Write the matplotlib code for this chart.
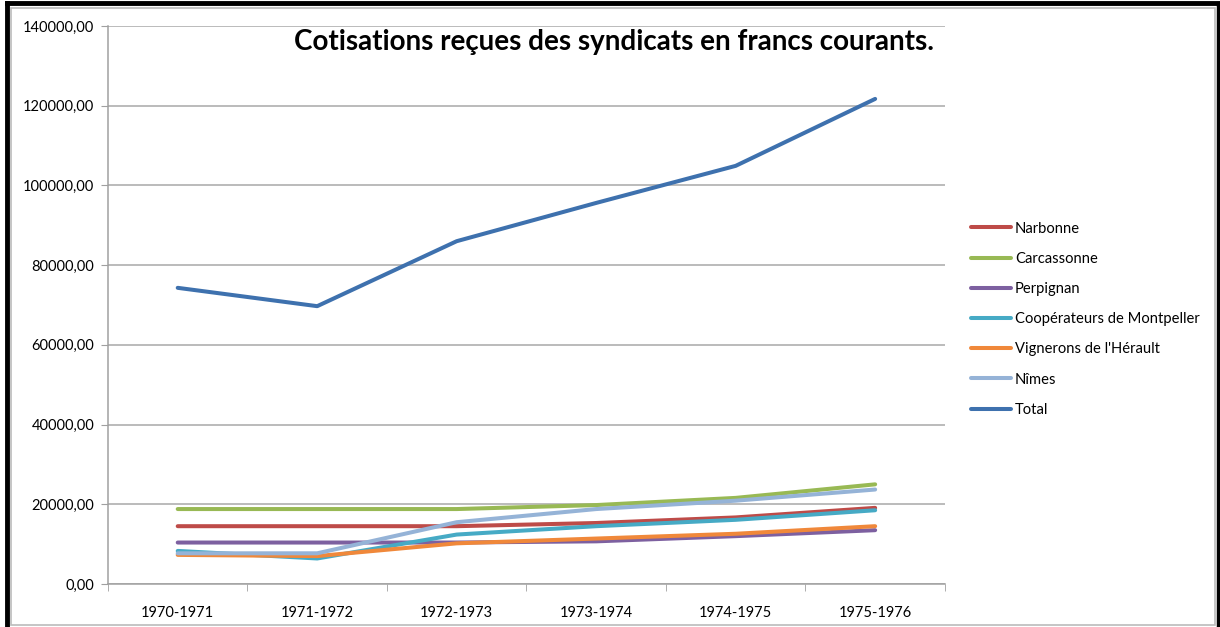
"""Cotisations des syndicats, 1970-1976"""

import matplotlib.pyplot as plt
from matplotlib.patches import Rectangle
from matplotlib.ticker import FuncFormatter

plt.rcParams['font.family'] = ['Lato', 'DejaVu Sans']

# campaigns and contributions (francs courants)
years = ['1970-1971', '1971-1972', '1972-1973', '1973-1974', '1974-1975', '1975-1976']
narbonne = [14500, 14500, 14500, 15300, 16700, 19100]
carcassonne = [18800, 18800, 18800, 19800, 21600, 25000]
perpignan = [10400, 10400, 10400, 10700, 12000, 13500]
cooperateurs = [8300, 6400, 12400, 14500, 16100, 18500]
vignerons = [7300, 7000, 10200, 11400, 12600, 14500]
nimes = [7700, 7700, 15500, 18800, 20900, 23700]
total = [74300, 69700, 86000, 95600, 104900, 121700]

series = [
    ('Narbonne', narbonne, '#BE4B48'),
    ('Carcassonne', carcassonne, '#98B954'),
    ('Perpignan', perpignan, '#7D60A0'),
    ('Coopérateurs de Montpeller', cooperateurs, '#46AAC5'),
    ("Vignerons de l'Hérault", vignerons, '#F0883A'),
    ('Nîmes', nimes, '#95B3D7'),
    ('Total', total, '#3E71AE'),
]

fig = plt.figure(figsize=(12.2, 6.27), dpi=100)
ax = fig.add_axes([0.0885, 0.0686, 0.686, 0.890])

x = list(range(len(years)))
for name, vals, col in series:
    ax.plot(x, vals, color=col, lw=2.9, label=name, solid_capstyle='round')

ax.set_xlim(-0.5, len(years) - 0.5)
ax.set_ylim(0, 140000)
ax.set_yticks(range(0, 140001, 20000))
ax.yaxis.set_major_formatter(FuncFormatter(lambda v, p: f'{v:.2f}'.replace('.', ',')))
ax.set_xticks(x)
ax.set_xticklabels(years)
ax.set_xticks([i - 0.5 for i in range(len(years) + 1)], minor=True)
ax.tick_params(axis='x', which='major', length=0, pad=16, labelsize=10.5)
ax.tick_params(axis='x', which='minor', length=5, color='#A0A0A0', direction='out')
ax.tick_params(axis='y', length=5, color='#A0A0A0', labelsize=10.5, pad=5)
ax.grid(axis='y', color='#A8A8A8', lw=1.1)
ax.set_axisbelow(True)
for s in ['top', 'right']:
    ax.spines[s].set_visible(False)
for s in ['left', 'bottom']:
    ax.spines[s].set_color('#A0A0A0')
    ax.spines[s].set_linewidth(1.1)

fig.text(0.503, 0.933, 'Cotisations reçues des syndicats en francs courants.',
         ha='center', va='center', fontsize=20, fontweight='bold')

ax.legend(loc='upper left', bbox_to_anchor=(0.791, 0.656), bbox_transform=fig.transFigure,
          frameon=False, fontsize=10.6, handlelength=2.7, handletextpad=0.3,
          labelspacing=1.1, borderaxespad=0)

# frame around the chart
fig.patches.append(Rectangle((0.009, 0.003), 0.987, 0.984, transform=fig.transFigure,
                             fill=False, ec='#BBBBBB', lw=1.2))
fig.add_artist(plt.Line2D([0.0057, 0.0057], [0, 0.995], transform=fig.transFigure, color='black', lw=3.5))
fig.add_artist(plt.Line2D([0.0057, 0.998], [0.995, 0.995], transform=fig.transFigure, color='black', lw=3.5))
fig.add_artist(plt.Line2D([0.998, 0.998], [0, 0.995], transform=fig.transFigure, color='black', lw=2.5))

fig.savefig('out.png')
